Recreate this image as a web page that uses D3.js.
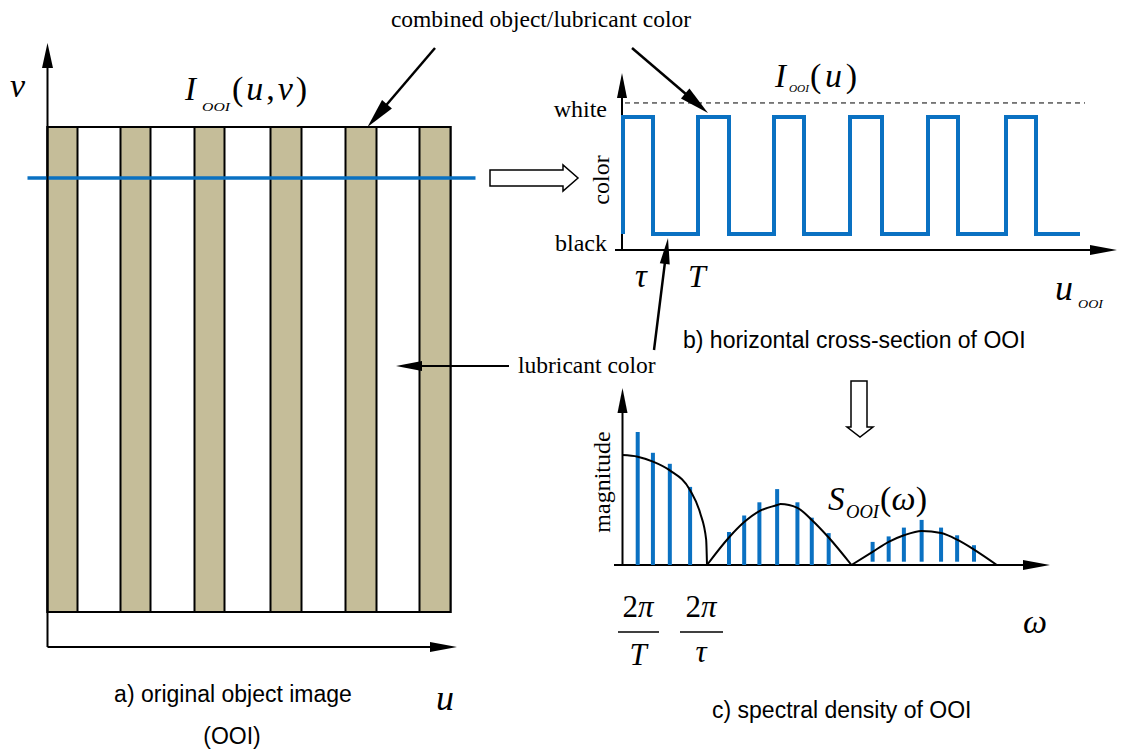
<!DOCTYPE html>
<html lang="en">
<head>
  <meta charset="UTF-8">
  <title>OOI spectral diagram</title>
  <style>
      body{ margin:0; background:#fff; }
      .serif{ font-family:"Liberation Serif","Times New Roman",serif; }
      .sans{ font-family:"Liberation Sans",Arial,sans-serif; }
      .math{ font-family:"Liberation Serif","Times New Roman",serif; font-style:italic; }
  </style>
</head>
<body>
<svg width="1125" height="754"></svg>
<script src="https://d3js.org/d3.v7.min.js"></script>
<script>
    // ---- data ----
    // a) stripes of the object image (u units)
    var stripeStart = [0, 73, 147, 223, 298, 372];
    var stripeEnd   = [30, 103, 177, 254, 329, 403];
    var scanV = 0.895;                 // height of the cross-section line
    var scanU = [-20, 428];

    // b) square wave edges (u units), starts at black, ends at black
    var waveEdges = [0, 30, 75, 106, 151, 181, 227, 259, 305, 335, 383, 413];
    var waveEnd = 457;
    var whiteLevel = 1.12;

    // c) spectral lines (omega in units of 2pi/tau) and magnitudes
    var lineOmega = [0.18, 0.36, 0.56, 0.80,
                     1.26, 1.44, 1.62, 1.83, 2.07, 2.24, 2.44,
                     2.96, 3.15, 3.33, 3.54, 3.77, 3.96, 4.16];
    var lineMag   = [1.21, 1.02, 0.92, 0.71,
                     0.30, 0.45, 0.57, 0.69, 0.57, 0.43, 0.29,
                     0.21, 0.26, 0.34, 0.41, 0.34, 0.27, 0.18];
    var lineBase  = [0, 0, 0, 0,
                     0, 0, 0, 0, 0, 0, 0,
                     0.03, 0.03, 0.03, 0.03, 0.03, 0.03, 0.03];

    // envelope lobes
    var env1Omega = [0, 0.18, 0.36, 0.56, 0.80, 0.92, 0.99, 1.0];
    var env1Mag   = [1.0, 0.985, 0.94, 0.86, 0.68, 0.47, 0.23, 0];
    var env2Omega = [1.0, 1.26, 1.44, 1.62, 1.83, 1.87, 2.07, 2.24, 2.44, 2.71];
    var env2Mag   = [0, 0.25, 0.39, 0.49, 0.545, 0.555, 0.52, 0.41, 0.25, 0];
    var env3Omega = [2.71, 2.96, 3.15, 3.33, 3.54, 3.77, 3.96, 4.16, 4.43];
    var env3Mag   = [0, 0.12, 0.21, 0.27, 0.31, 0.29, 0.23, 0.14, 0];

    var blue = "#0a71c2", tan = "#c5bd99";

    var svg = d3.select("svg");
    svg.append("rect").attr("width", 1125).attr("height", 754).attr("fill", "#fff");

    function arrow(g, x1, y1, x2, y2, len, hw, sw) {
        var dx = x2 - x1, dy = y2 - y1, L = Math.hypot(dx, dy), ux = dx / L, uy = dy / L;
        var bx = x2 - ux * len, by = y2 - uy * len;
        g.append("line").attr("x1", x1).attr("y1", y1).attr("x2", bx + ux * 2).attr("y2", by + uy * 2)
            .attr("stroke", "#000").attr("stroke-width", sw || 2);
        g.append("path")
            .attr("d", "M" + x2 + "," + y2 + "L" + (bx - uy * hw) + "," + (by + ux * hw) +
                       "L" + (bx + uy * hw) + "," + (by - ux * hw) + "Z")
            .attr("fill", "#000");
    }

    // subscript helper: stretched small italic letters
    function sub(g, x, y, size, w, txt) {
        g.append("text").attr("class", "math").attr("x", x).attr("y", y)
            .attr("font-size", size).attr("textLength", w)
            .attr("lengthAdjust", "spacingAndGlyphs").text(txt);
    }

    // ================= a) original object image =================
    var ua = d3.scaleLinear().domain([0, 403]).range([47.5, 450.5]);
    var va = d3.scaleLinear().domain([0, 1]).range([612, 127]);
    var ga = svg.append("g");

    ga.append("rect").attr("x", ua(0)).attr("y", va(1))
        .attr("width", ua(403) - ua(0)).attr("height", va(0) - va(1))
        .attr("fill", "#fff").attr("stroke", "#000").attr("stroke-width", 2);

    ga.selectAll("rect.stripe")
        .data(d3.range(stripeStart.length))
        .enter().append("rect")
        .attr("class", "stripe")
        .attr("x", function(i) { return ua(stripeStart[i]); })
        .attr("y", va(1))
        .attr("width", function(i) { return ua(stripeEnd[i]) - ua(stripeStart[i]); })
        .attr("height", va(0) - va(1))
        .attr("fill", tan).attr("stroke", "#000").attr("stroke-width", 2);

    ga.append("line")
        .attr("x1", ua(scanU[0])).attr("x2", ua(scanU[1]))
        .attr("y1", va(scanV)).attr("y2", va(scanV))
        .attr("stroke", blue).attr("stroke-width", 3.5);

    // axes
    arrow(ga, 47.5, 647, 47.5, 43, 25, 5.5, 2);
    arrow(ga, 47.5, 647, 457, 647, 27, 5, 2);

    ga.append("text").attr("class", "math").attr("x", 10).attr("y", 97)
        .attr("font-size", 34).text("v");
    ga.append("text").attr("class", "math").attr("x", 436).attr("y", 710)
        .attr("font-size", 36).text("u");

    ga.append("text").attr("class", "math").attr("x", 185).attr("y", 100)
        .attr("font-size", 33).text("I");
    sub(ga, 202, 111, 13, 28, "OOI");
    var t1 = ga.append("text").attr("class", "math").attr("x", 232).attr("y", 100)
        .attr("font-size", 34).attr("textLength", 75).attr("lengthAdjust", "spacing");
    t1.append("tspan").attr("font-style", "normal").text("(");
    t1.append("tspan").text("u");
    t1.append("tspan").attr("font-style", "normal").text(",");
    t1.append("tspan").text("v");
    t1.append("tspan").attr("font-style", "normal").text(")");

    ga.append("text").attr("class", "sans").attr("x", 233).attr("y", 702)
        .attr("text-anchor", "middle").attr("font-size", 23).text("a) original object image");
    ga.append("text").attr("class", "sans").attr("x", 232).attr("y", 744)
        .attr("text-anchor", "middle").attr("font-size", 23).text("(OOI)");

    // annotations
    svg.append("text").attr("class", "serif").attr("x", 541).attr("y", 27)
        .attr("text-anchor", "middle").attr("font-size", 23.5).text("combined object/lubricant color");
    arrow(svg, 435, 48, ua(320), va(1), 30, 6.5, 2.5);
    arrow(svg, 632, 48, 708, 113, 30, 6.5, 2.5);

    svg.append("text").attr("class", "serif").attr("x", 518).attr("y", 373)
        .attr("font-size", 23.5).text("lubricant color");
    arrow(svg, 509, 366, 396, 366, 26, 5, 2);
    arrow(svg, 654, 350, 668, 238, 26, 5, 2.5);

    // hollow arrows
    svg.append("path")
        .attr("d", "M490,170L563,170L563,165L578,178L563,191L563,186L490,186Z")
        .attr("fill", "#fff").attr("stroke", "#000").attr("stroke-width", 1.5);
    svg.append("path")
        .attr("d", "M851,381L867,381L867,427L873,427L860,437L847,427L851,427Z")
        .attr("fill", "#fff").attr("stroke", "#000").attr("stroke-width", 1.5);

    // ================= b) horizontal cross-section =================
    var ub = d3.scaleLinear().domain([0, 457]).range([623, 1080]);
    var lb = d3.scaleLinear().domain([0, 1]).range([234, 117]);
    var gb = svg.append("g");

    gb.append("line").attr("x1", 625).attr("x2", ub(462))
        .attr("y1", lb(whiteLevel)).attr("y2", lb(whiteLevel))
        .attr("stroke", "#000").attr("stroke-width", 1).attr("stroke-dasharray", "5,4");

    arrow(gb, 622, 250, 622, 73, 25, 5, 2);
    arrow(gb, 615, 250, 1117, 250, 27, 5, 2);

    var pts = [], level = 0;
    waveEdges.forEach(function(e) {
        pts.push([e, level]);
        level = 1 - level;
        pts.push([e, level]);
    });
    pts.push([waveEnd, level]);

    gb.append("path")
        .datum(pts)
        .attr("d", d3.line().x(function(d) { return ub(d[0]); }).y(function(d) { return lb(d[1]); }))
        .attr("fill", "none").attr("stroke", blue).attr("stroke-width", 4)
        .attr("stroke-linejoin", "miter");

    gb.append("text").attr("class", "serif").attr("x", 607).attr("y", 117)
        .attr("text-anchor", "end").attr("font-size", 24).text("white");
    gb.append("text").attr("class", "serif").attr("x", 607).attr("y", 251)
        .attr("text-anchor", "end").attr("font-size", 24).text("black");
    gb.append("text").attr("class", "serif").attr("font-size", 24)
        .attr("text-anchor", "middle")
        .attr("transform", "translate(609,180) rotate(-90)").text("color");

    gb.append("text").attr("class", "math").attr("x", 775).attr("y", 87)
        .attr("font-size", 33).text("I");
    sub(gb, 789, 92, 11, 20, "OOI");
    var t2 = gb.append("text").attr("class", "math").attr("x", 810).attr("y", 87)
        .attr("font-size", 34).attr("textLength", 47).attr("lengthAdjust", "spacing");
    t2.append("tspan").attr("font-style", "normal").text("(");
    t2.append("tspan").text("u");
    t2.append("tspan").attr("font-style", "normal").text(")");

    gb.append("text").attr("class", "math").attr("x", 635).attr("y", 287)
        .attr("font-size", 33).text("\u03C4");
    gb.append("text").attr("class", "math").attr("x", 688).attr("y", 287)
        .attr("font-size", 32).text("T");
    gb.append("text").attr("class", "math").attr("x", 1055).attr("y", 300)
        .attr("font-size", 36).text("u");
    sub(gb, 1078, 308, 12, 25, "OOI");

    gb.append("text").attr("class", "sans").attr("x", 683).attr("y", 348)
        .attr("font-size", 23).text("b) horizontal cross-section of OOI");

    // ================= c) spectral density =================
    var wc = d3.scaleLinear().domain([0, 1]).range([622.5, 707]);
    var mc = d3.scaleLinear().domain([0, 1]).range([565, 455]);
    var gc = svg.append("g");

    arrow(gc, 622.5, 565, 622.5, 388, 25, 5, 2);
    arrow(gc, 614, 565, 1050, 565, 27, 5, 2);

    gc.selectAll("line.spec")
        .data(d3.range(lineOmega.length))
        .enter().append("line")
        .attr("class", "spec")
        .attr("x1", function(i) { return wc(lineOmega[i]); })
        .attr("x2", function(i) { return wc(lineOmega[i]); })
        .attr("y1", function(i) { return mc(lineBase[i]); })
        .attr("y2", function(i) { return mc(lineMag[i]); })
        .attr("stroke", blue).attr("stroke-width", 4);

    var envLine = d3.line()
        .x(function(d) { return wc(d[0]); })
        .y(function(d) { return mc(d[1]); })
        .curve(d3.curveMonotoneX);
    [[env1Omega, env1Mag], [env2Omega, env2Mag], [env3Omega, env3Mag]].forEach(function(lobe) {
        gc.append("path")
            .datum(d3.zip(lobe[0], lobe[1]))
            .attr("d", envLine)
            .attr("fill", "none").attr("stroke", "#000").attr("stroke-width", 2);
    });

    gc.append("text").attr("class", "serif").attr("font-size", 24)
        .attr("text-anchor", "middle")
        .attr("transform", "translate(610,482) rotate(-90)").text("magnitude");

    gc.append("text").attr("class", "math").attr("x", 828).attr("y", 510)
        .attr("font-size", 33).text("S");
    sub(gc, 846, 518, 18, 33, "OOI");
    var t3 = gc.append("text").attr("class", "math").attr("x", 880).attr("y", 510)
        .attr("font-size", 34).attr("textLength", 47).attr("lengthAdjust", "spacing");
    t3.append("tspan").attr("font-style", "normal").text("(");
    t3.append("tspan").text("\u03C9");
    t3.append("tspan").attr("font-style", "normal").text(")");

    // fractions under the axis
    function fraction(cx, x0, x1, top, bottom) {
        gc.append("text").attr("class", "serif").attr("x", cx).attr("y", 617)
            .attr("text-anchor", "middle").attr("font-size", 31)
            .html('2<tspan font-style="italic">\u03C0</tspan>');
        gc.append("line").attr("x1", x0).attr("x2", x1).attr("y1", 632).attr("y2", 632)
            .attr("stroke", "#000").attr("stroke-width", 1.5);
        gc.append("text").attr("class", "math").attr("x", cx).attr("y", bottom)
            .attr("text-anchor", "middle").attr("font-size", 31).text(top);
    }
    fraction(638, 618, 659, "T", 665);
    fraction(701, 680, 723, "\u03C4", 662);

    gc.append("text").attr("class", "math").attr("x", 1023).attr("y", 633)
        .attr("font-size", 34).text("\u03C9");

    gc.append("text").attr("class", "sans").attr("x", 712).attr("y", 718)
        .attr("font-size", 23).text("c) spectral density of OOI");
</script>
</body>
</html>
